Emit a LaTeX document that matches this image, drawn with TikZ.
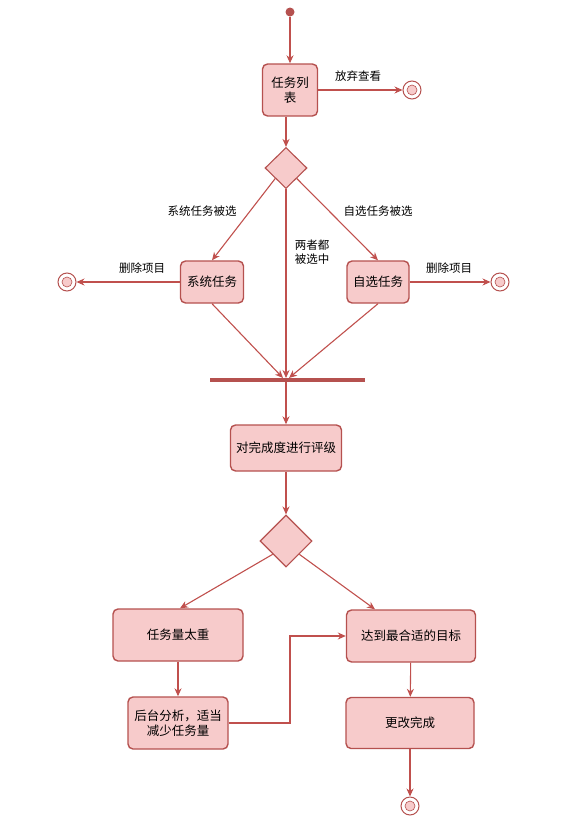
\documentclass[tikz,border=0pt]{standalone}
\usepackage{fontspec}
\newfontfamily\cjk{Noto Sans CJK SC}
\usetikzlibrary{shapes.geometric,arrows.meta}
\definecolor{ln}{HTML}{C0504D}
\definecolor{bd}{HTML}{B5514F}
\definecolor{fl}{HTML}{F7CBCB}
\tikzset{
  act/.style={draw=bd, line width=1.4pt, fill=fl, rounded corners=5pt, align=center, font=\cjk\fontsize{12.5}{15}\selectfont, inner sep=0pt},
  dec/.style={draw=bd, line width=1.1pt, fill=fl, diamond, inner sep=0pt},
  arr/.style={draw=ln, line width=1.1pt, -{Stealth[length=8pt,width=7pt]}},
  lbl/.style={font=\cjk\fontsize{11.5}{14}\selectfont, align=center, inner sep=0pt},
  endn/.style={circle, draw=bd, line width=1pt, fill=white, minimum size=18pt, inner sep=0pt, path picture={\fill[fl, draw=bd, line width=0.6pt] (path picture bounding box.center) circle (5pt);}},
}
\begin{document}
\begin{tikzpicture}[x=1pt,y=-1pt]
\useasboundingbox (0,0) rectangle (586,825);
\node[circle, fill=bd, minimum size=9pt, inner sep=0pt] (start) at (290,12) {};
\node[act, minimum width=55pt, minimum height=52pt] (list) at (290,90) {任务列\\表};
\node[endn] (e1) at (412,90) {};
\node[dec, minimum width=42pt, minimum height=41pt] (d1) at (286,168) {};
\node[act, minimum width=63pt, minimum height=42pt] (sys) at (212,282) {系统任务};
\node[act, minimum width=62pt, minimum height=42pt] (self) at (378,282) {自选任务};
\node[endn] (e2) at (67,282) {};
\node[endn] (e3) at (500,282) {};
\fill[bd] (210,378) rectangle (365,382);
\coordinate (bar) at (286,378);
\coordinate (barl) at (283,378);
\coordinate (barr) at (289,378);
\coordinate (barb) at (286,382);
\node[act, minimum width=111pt, minimum height=46pt] (rate) at (286,448) {对完成度进行评级};
\node[dec, minimum width=52pt, minimum height=52pt] (d2) at (286,541) {};
\node[act, minimum width=130pt, minimum height=52pt] (heavy) at (178,635) {任务量太重};
\node[act, minimum width=129pt, minimum height=52pt] (fit) at (411,636) {达到最合适的目标};
\node[act, minimum width=100pt, minimum height=52pt] (back) at (178,723) {后台分析，适当\\减少任务量};
\node[act, minimum width=128pt, minimum height=51pt] (done) at (410,723) {更改完成};
\node[endn] (e4) at (410,806) {};

\node[lbl] (l1) at (358,76) {放弃查看};
\node[lbl] (l2) at (202,211) {系统任务被选};
\node[lbl] (l3) at (378,211) {自选任务被选};
\node[lbl] (l4) at (312,252) {两者都\\被选中};
\node[lbl] (l5) at (142,268) {删除项目};
\node[lbl] (l6) at (449,268) {删除项目};

\draw[arr] (start) -- (list);
\draw[arr] (list) -- (e1);
\draw[arr] (list.south -| 286,0) -- (d1);
\draw[arr] (d1.south west) -- (sys.north);
\draw[arr] (d1.south east) -- (self.north);
\draw[arr] (d1.south) -- (bar);
\draw[arr] (sys) -- (e2);
\draw[arr] (self) -- (e3);
\draw[arr] (sys.south) -- (barl);
\draw[arr] (self.south) -- (barr);
\draw[arr] (barb) -- (rate);
\draw[arr] (rate) -- (d2);
\draw[arr] (d2.south west) -- ([xshift=2pt]heavy.north);
\draw[arr] (d2.south east) -- ([xshift=-36pt]fit.north);
\draw[arr] (heavy) -- (back);
\draw[arr] (back.east) -- (290,723) -- (290,636) -- (fit.west);
\draw[arr] (fit) -- (done);
\draw[arr] (done) -- (e4);
\end{tikzpicture}
\end{document}
